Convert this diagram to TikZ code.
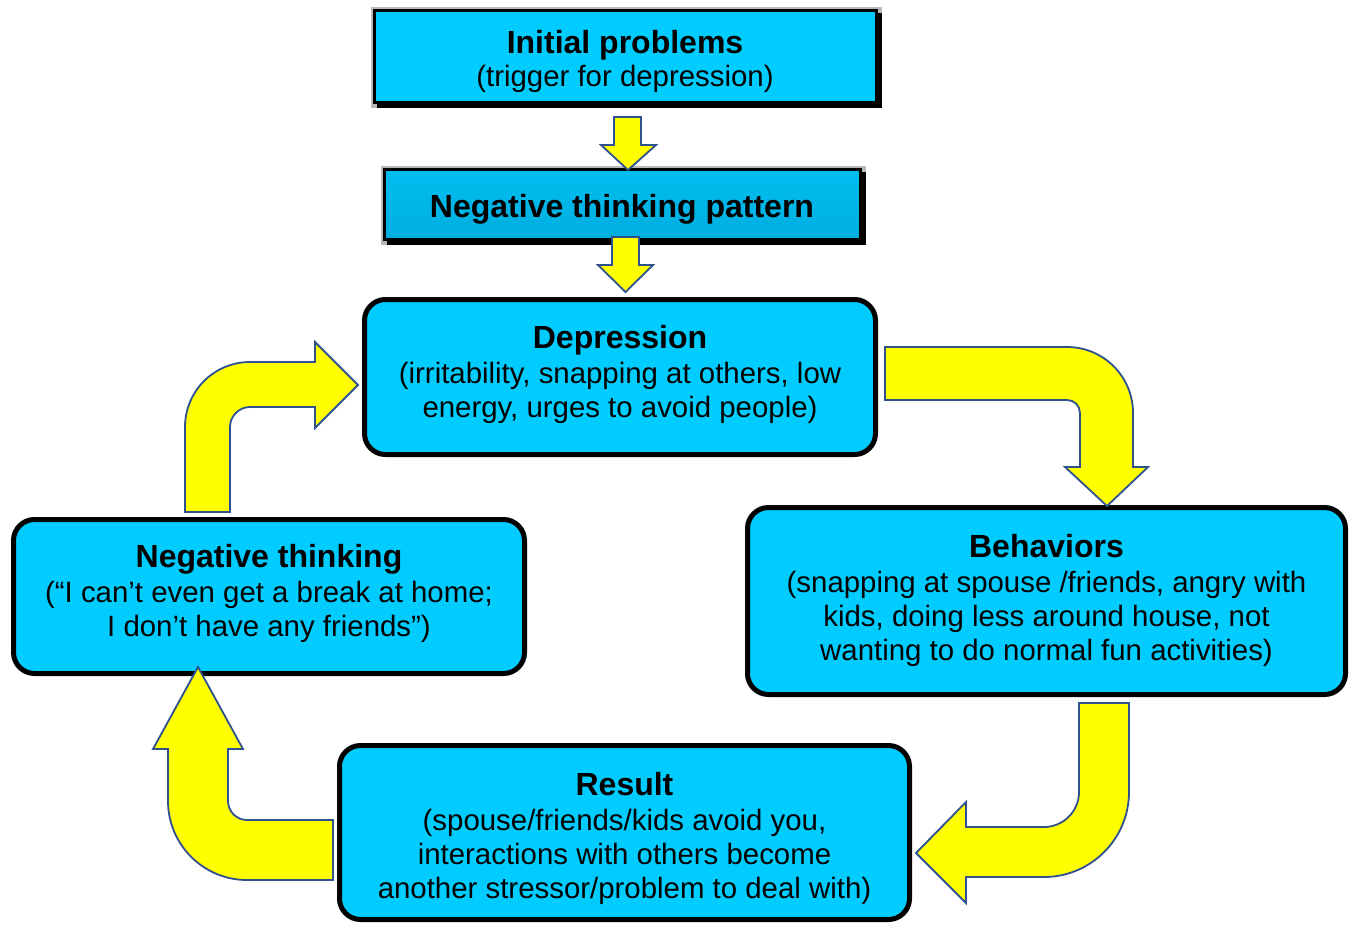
\documentclass[tikz,border=0pt]{standalone}
\usepackage{fontspec}
\setmainfont{Liberation Sans}
\usetikzlibrary{calc,backgrounds}
\definecolor{boxcyan}{RGB}{0,204,255}
\definecolor{boxcyantop}{RGB}{0,190,240}
\definecolor{boxcyanbot}{RGB}{0,174,224}
\definecolor{arrowyellow}{RGB}{255,255,0}
\definecolor{arrowedge}{RGB}{47,82,143}
\definecolor{rimgray}{RGB}{185,185,185}
\newcommand\boxtitle[1]{{\fontsize{32}{34}\selectfont\bfseries #1}}
\begin{document}
\begin{tikzpicture}[x=1pt,y=-1pt,
  textfont/.style={font=\fontsize{29.4}{34}\selectfont, align=center, inner sep=0pt},
  roundbox/.style={draw=black, line width=5pt, rounded corners=21pt, fill=boxcyan, inner sep=0pt},
  flatbox/.style={draw=black, line width=3pt, inner sep=0pt},
  blockarrow/.style={fill=arrowyellow, draw=arrowedge, line width=1.8pt, line join=miter}]
\useasboundingbox (0,0) rectangle (1351,924);

% header boxes (square, with drop shadow)
\node[flatbox, fill=boxcyan, minimum width=502pt, minimum height=92pt] (init) at (625,56) {};
\node[flatbox, top color=boxcyantop, middle color=boxcyan, bottom color=boxcyanbot,
  minimum width=476pt, minimum height=70pt] (pattern) at (622,204) {};

% cycle boxes
\node[roundbox, minimum width=511pt, minimum height=155pt] (dep) at (620,377) {};
\node[roundbox, minimum width=511pt, minimum height=154pt] (neg) at (269,596.5) {};
\node[roundbox, minimum width=598pt, minimum height=187pt] (beh) at (1046.5,601) {};
\node[roundbox, minimum width=570pt, minimum height=174pt] (res) at (624.5,832.5) {};

% box texts
\node[textfont] (initText) at ([yshift=-5.5pt]init.center)
  {\boxtitle{Initial problems}\\[-1pt](trigger for depression)};
\node[textfont] (patternText) at ([yshift=-5pt]pattern.center)
  {\boxtitle{Negative thinking pattern}};
\node[textfont] (depText) at ([yshift=2.5pt]dep.center)
  {\boxtitle{Depression}\\[1pt](irritability, snapping at others, low\\energy, urges to avoid people)};
\node[textfont] (negText) at ([yshift=3pt]neg.center)
  {\boxtitle{Negative thinking}\\[1pt](“I can’t even get a break at home;\\I don’t have any friends”)};
\node[textfont] (behText) at ([yshift=0.5pt]beh.center)
  {\boxtitle{Behaviors}\\[1pt](snapping at spouse /friends, angry with\\kids, doing less around house, not\\wanting to do normal fun activities)};
\node[textfont] (resText) at ([yshift=-6pt]res.center)
  {\boxtitle{Result}\\[1pt](spouse/friends/kids avoid you,\\interactions with others become\\another stressor/problem to deal with)};

% page, rims and shadows of the header boxes
\begin{scope}[on background layer]
  \fill[white] (0,0) rectangle (1351,924);
  \foreach \b in {init,pattern}{
    \fill[rimgray] ($(\b.north west)+(-1.5,-1.5)$) rectangle ($(\b.south east)+(4,4)$);
    \fill[black] ($(\b.north west)+(4,4)$) rectangle ($(\b.south east)+(4,4)$);
  }
\end{scope}

% straight block arrows down the header
\draw[blockarrow] (614,117) -- (641,117) -- (641,145) -- (656,145) -- (628,170)
  -- (601,145) -- (614,145) -- cycle;
\draw[blockarrow] (612,237) -- (639,237) -- (639,265) -- (653,265) -- (625.5,292)
  -- (598,265) -- (612,265) -- cycle;

% depression -> behaviors
\draw[blockarrow] (885,347) -- (1067,347)
  .. controls (1103.5,347) and (1133,376.5) .. (1133,413)
  -- (1133,467) -- (1148,467) -- (1107,506) -- (1065,467) -- (1080,467) -- (1080,413)
  .. controls (1080,405.8) and (1074.2,400) .. (1067,400)
  -- (885,400) -- cycle;

% behaviors -> result
\draw[blockarrow] (1079,703) -- (1129,703) -- (1129,792)
  .. controls (1129,838.9) and (1090.9,877) .. (1044,877)
  -- (966,877) -- (966,903) -- (916,853) -- (966,802) -- (966,827) -- (1044,827)
  .. controls (1063.3,827) and (1079,811.3) .. (1079,792) -- cycle;

% result -> negative thinking
\draw[blockarrow] (333,820) -- (247,820)
  .. controls (236.5,820) and (228,811.5) .. (228,801)
  -- (228,749) -- (243,749) -- (198,667) -- (153,749) -- (168,749) -- (168,801)
  .. controls (168,844.6) and (203.4,880) .. (247,880)
  -- (333,880) -- cycle;

% negative thinking -> depression
\draw[blockarrow] (185,512) -- (185,427)
  .. controls (185,391.1) and (214.1,362) .. (250,362)
  -- (315,362) -- (315,342) -- (358,385) -- (315,428) -- (315,407) -- (250,407)
  .. controls (239,407) and (230,416) .. (230,427)
  -- (230,512) -- cycle;
\end{tikzpicture}
\end{document}
